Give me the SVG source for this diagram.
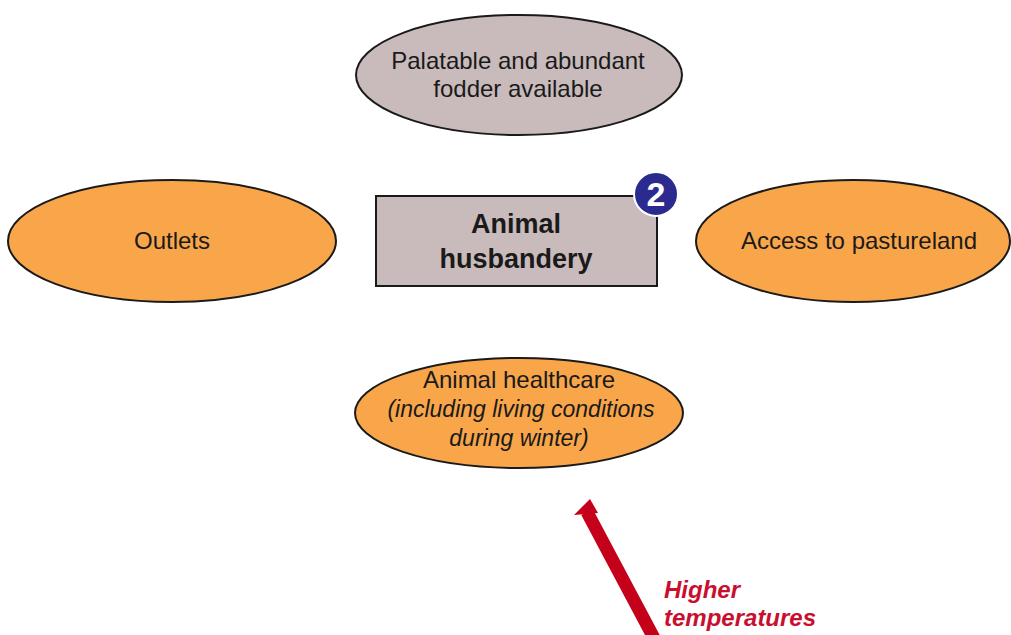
<svg xmlns="http://www.w3.org/2000/svg" width="1011" height="635" viewBox="0 0 1011 635">
<style>
.e{stroke:#1a1a1a;stroke-width:2}
.org{fill:#f9a64a}
.gry{fill:#c9bbbb}
.t{font-family:"Liberation Sans",Arial,sans-serif;font-size:24px;fill:#1a1a1a;text-anchor:middle}
.b{font-weight:bold;font-size:27px}
.i{font-style:italic;font-size:23px}
.r{font-family:"Liberation Sans",Arial,sans-serif;font-size:24px;font-weight:bold;font-style:italic;fill:#c8102e}
</style>
<rect width="1011" height="635" fill="#ffffff"/>
<g id="fodder">
<ellipse class="e gry" cx="519" cy="75" rx="163" ry="60"/>
<text class="t" x="518" y="69">Palatable and abundant</text>
<text class="t" x="518" y="97">fodder available</text>
</g>
<g id="outlets">
<ellipse class="e org" cx="172" cy="241" rx="164" ry="61"/>
<text class="t" x="172" y="249">Outlets</text>
</g>
<g id="pasture">
<ellipse class="e org" cx="853" cy="241" rx="157" ry="61"/>
<text class="t" x="859" y="249">Access to pastureland</text>
</g>
<g id="husbandry">
<rect class="e gry" x="376" y="196" width="281" height="90"/>
<text class="t b" x="516" y="233">Animal</text>
<text class="t b" x="516" y="268">husbandery</text>
</g>
<g id="badge">
<circle cx="656" cy="194" r="22" fill="#2b2b8f" stroke="#ffffff" stroke-width="2"/>
<text x="656" y="206" font-family="Liberation Sans,Arial,sans-serif" font-size="34" font-weight="bold" fill="#ffffff" text-anchor="middle">2</text>
</g>
<g id="healthcare">
<ellipse class="e org" cx="519" cy="413" rx="164" ry="55"/>
<text class="t" x="519" y="388">Animal healthcare</text>
<text class="t i" x="521" y="417">(including living conditions</text>
<text class="t i" x="519" y="446">during winter)</text>
</g>
<g id="connectors">
<path d="M655,640 L587,512" stroke="#c4001a" stroke-width="13" fill="none"/>
<polygon points="590,499 574,515 598,513" fill="#c4001a"/>
</g>
<g id="label">
<text class="r" x="664" y="598">Higher</text>
<text class="r" x="664" y="626">temperatures</text>
</g>
</svg>
